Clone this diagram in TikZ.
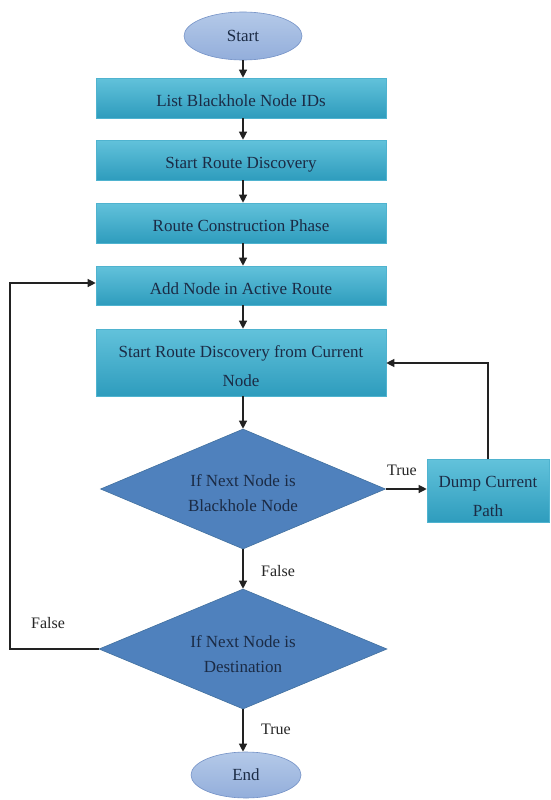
\documentclass[tikz,border=0pt]{standalone}
\usepackage{fontspec}
\setmainfont{Liberation Serif}
\usetikzlibrary{shapes.geometric,arrows.meta}

\definecolor{boxtop}{HTML}{62C2DB}
\definecolor{boxbot}{HTML}{2E9CBD}
\definecolor{boxedge}{HTML}{4FB3CF}
\definecolor{diafill}{HTML}{4F81BD}
\definecolor{diaedge}{HTML}{41709F}
\definecolor{ovtop}{HTML}{B4C9E8}
\definecolor{ovbot}{HTML}{93AEDB}
\definecolor{ovedge}{HTML}{7391C6}
\definecolor{txtdark}{HTML}{1B2B45}
\definecolor{wire}{HTML}{222222}

\tikzset{
  stepbox/.style={rectangle, draw=boxedge, line width=0.6pt,
    top color=boxtop, bottom color=boxbot,
    minimum width=290, inner sep=0pt,
    text=txtdark, font=\fontsize{17}{29}\selectfont},
  decision/.style={diamond, aspect=2.375, draw=diaedge, line width=0.6pt,
    fill=diafill, inner sep=0pt, text=txtdark,
    font=\fontsize{17}{25}\selectfont},
  terminal/.style={ellipse, draw=ovedge, line width=0.6pt,
    top color=ovtop, bottom color=ovbot, inner sep=0pt,
    text=txtdark, font=\fontsize{17}{20}\selectfont},
  flow/.style={draw=wire, line width=1.2pt,
    -{Triangle[length=8pt,width=8pt]}},
  edgelabel/.style={text=black!85, font=\fontsize{16}{18}\selectfont, inner sep=0pt}
}
% centred lines of a shape's text, set a little below the shape's centre
\newcommand{\settext}[2]{\raisebox{-#1}[0pt][0pt]{\begin{tabular}{@{}c@{}}#2\end{tabular}}}

\begin{document}
\begin{tikzpicture}[x=1pt,y=-1pt]
  \useasboundingbox[fill=white] (0,0) rectangle (551,800);

  % terminals
  \node[terminal, minimum width=118, minimum height=48] (start) at (243,36) {Start};
  \node[terminal, minimum width=110, minimum height=46] (stop) at (246,775) {End};

  % process steps
  \node[stepbox, minimum height=40] (b1) at (241,98)  {\settext{7.5pt}{List Blackhole Node IDs}};
  \node[stepbox, minimum height=40] (b2) at (241,160) {\settext{7.5pt}{Start Route Discovery}};
  \node[stepbox, minimum height=40] (b3) at (241,223) {\settext{7.5pt}{Route Construction Phase}};
  \node[stepbox, minimum height=39] (b4) at (241,285.5) {\settext{7.5pt}{Add Node in Active Route}};
  \node[stepbox, minimum height=67] (b5) at (241,362.5)
       {\settext{8.5pt}{Start Route Discovery from Current\\Node}};
  \node[stepbox, minimum width=122, minimum height=63] (dump) at (488,491)
       {\settext{10pt}{Dump Current\\Path}};

  % decisions
  \node[decision, minimum width=285, minimum height=120] (d1) at (243,489)
       {\settext{9.5pt}{If Next Node is\\Blackhole Node}};
  \node[decision, minimum width=288, minimum height=120] (d2) at (243,649)
       {\settext{10pt}{If Next Node is\\Destination}};

  % main flow
  \draw[flow] (start.south) -- (start.south |- b1.north);
  \draw[flow] (b1.south -| start.south) -- (b2.north -| start.south);
  \draw[flow] (b2.south -| start.south) -- (b3.north -| start.south);
  \draw[flow] (b3.south -| start.south) -- (b4.north -| start.south);
  \draw[flow] (b4.south -| start.south) -- (b5.north -| start.south);
  \draw[flow] (b5.south -| start.south) -- (d1.north);
  \draw[flow] (d1.south) -- (d2.north);
  \draw[flow] (d2.south) -- (d2.south |- stop.north);

  % branch to dump and back
  \draw[flow] (d1.east) -- (d1.east -| dump.west);
  \coordinate (rback) at (488,363);
  \draw[flow] (dump.north) -- (rback) -- (rback -| b5.east);

  % loop back to active route
  \coordinate (lft) at (10,649);
  \coordinate (ltop) at (10,283);
  \draw[flow] (d2.west) -- (lft) -- (ltop) -- (ltop -| b4.west);

  % branch labels
  \node[edgelabel] (ltrue1)  at (402,470) {True};
  \node[edgelabel] (lfalse1) at (278,571) {False};
  \node[edgelabel] (lfalse2) at (48,623)  {False};
  \node[edgelabel] (ltrue2)  at (276,729) {True};
\end{tikzpicture}
\end{document}
